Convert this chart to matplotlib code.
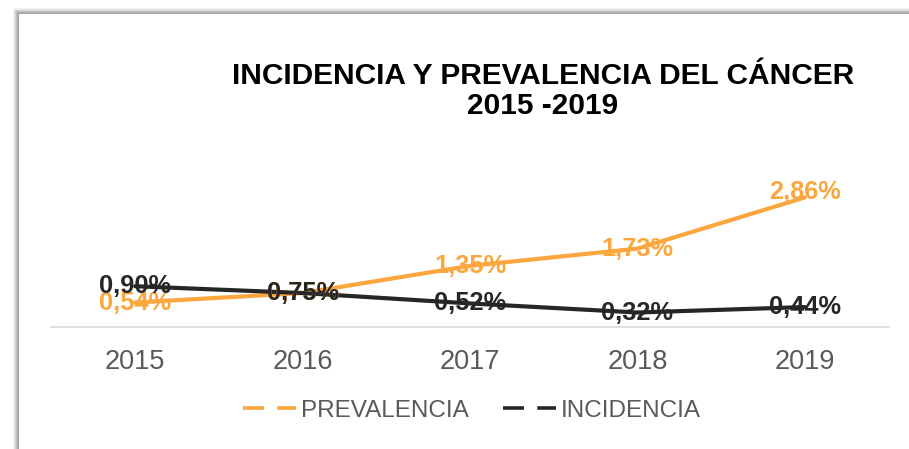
import matplotlib
matplotlib.use("Agg")
import matplotlib.pyplot as plt
from matplotlib.patches import Rectangle
from matplotlib.lines import Line2D
from matplotlib import font_manager

years = ["2015", "2016", "2017", "2018", "2019"]
prevalencia = [0.54, 0.75, 1.35, 1.73, 2.86]
incidencia = [0.90, 0.75, 0.52, 0.32, 0.44]
prev_labels = ["0,54%", "0,75%", "1,35%", "1,73%", "2,86%"]
inc_labels = ["0,90%", "0,75%", "0,52%", "0,32%", "0,44%"]
title = "INCIDENCIA Y PREVALENCIA DEL CÁNCER\n2015 -2019"

ORANGE = "#FBA73E"
DARK = "#262626"
GRAY = "#595959"

names = {f.name for f in font_manager.fontManager.ttflist}
base = "Liberation Sans" if "Liberation Sans" in names else "DejaVu Sans"
plt.rcParams["font.family"] = [base, "DejaVu Sans"]

W, H = 909, 449
fig = plt.figure(figsize=(W / 100, H / 100), dpi=100)
fig.patch.set_facecolor("white")

def px(x, y):
    return (x / W, 1 - y / H)

# shadow frame
shades = ["#f4f4f4", "#e6e6e6", "#d4d4d4", "#c2c2c2", "#b0b0b0", "#a2a2a2"]
for i, c in enumerate(shades):
    k = 6 - i
    x0, y0 = 19 - k, 14 - k
    fig.patches.append(Rectangle(px(x0, H + 10), (W + 20 - x0) / W, (H + 10 - y0) / H,
                                 transform=fig.transFigure, facecolor=c, edgecolor="none", zorder=-10))
fig.patches.append(Rectangle(px(19, H + 10), (W + 20 - 19) / W, (H + 10 - 14) / H,
                             transform=fig.transFigure, facecolor="white", edgecolor="none", zorder=-9))

left, right = 51.5, 888.5
bottom_px = 327
ymax = 3.5
scale = 45.3
top_px = bottom_px - ymax * scale
ax = fig.add_axes([left / W, 1 - bottom_px / H, (right - left) / W, (bottom_px - top_px) / H])
ax.set_facecolor("none")
ax.set_zorder(1)
x = list(range(len(years)))
ax.plot(x, prevalencia, color=ORANGE, lw=3, solid_capstyle="round", zorder=3)
ax.plot(x, incidencia, color=DARK, lw=3, solid_capstyle="round", zorder=3)
ax.set_xlim(-0.5, len(years) - 0.5)
ax.set_ylim(0, ymax)
for s in ["top", "right", "left"]:
    ax.spines[s].set_visible(False)
ax.spines["bottom"].set_color("#D9D9D9")
ax.spines["bottom"].set_linewidth(1.2)
ax.set_yticks([])
ax.set_xticks(x)
ax.set_xticklabels(years, fontsize=19.5, color=GRAY)
ax.tick_params(axis="x", length=0, pad=16)

for xi, v, lab in zip(x, prevalencia, prev_labels):
    dy = 4 if xi == 4 else 0
    ax.annotate(lab, (xi, v), xytext=(0, dy), textcoords="offset points", ha="center", va="center",
                fontsize=18.3, fontweight="bold", color=ORANGE, zorder=5)
for xi, v, lab in zip(x, incidencia, inc_labels):
    ax.annotate(lab, (xi, v), xytext=(0, 0), textcoords="offset points", ha="center", va="center",
                fontsize=18.3, fontweight="bold", color=DARK, zorder=6)

fig.text(543 / W, 1 - 91 / H, title, ha="center", va="center", fontsize=21.5, fontweight="bold",
         color="black", linespacing=1.12)

handles = [Line2D([], [], color=ORANGE, lw=2.6, linestyle=(0, (5.8, 3.7))),
           Line2D([], [], color=DARK, lw=2.6, linestyle=(0, (5.8, 3.7)))]
fig.legend(handles, ["PREVALENCIA", "INCIDENCIA"], loc="center", bbox_to_anchor=px(472, 411),
           ncol=2, frameon=False, fontsize=17.5, labelcolor=GRAY, handlelength=2.2,
           handletextpad=0.2, columnspacing=1.4)

fig.savefig("out.png", dpi=100)
